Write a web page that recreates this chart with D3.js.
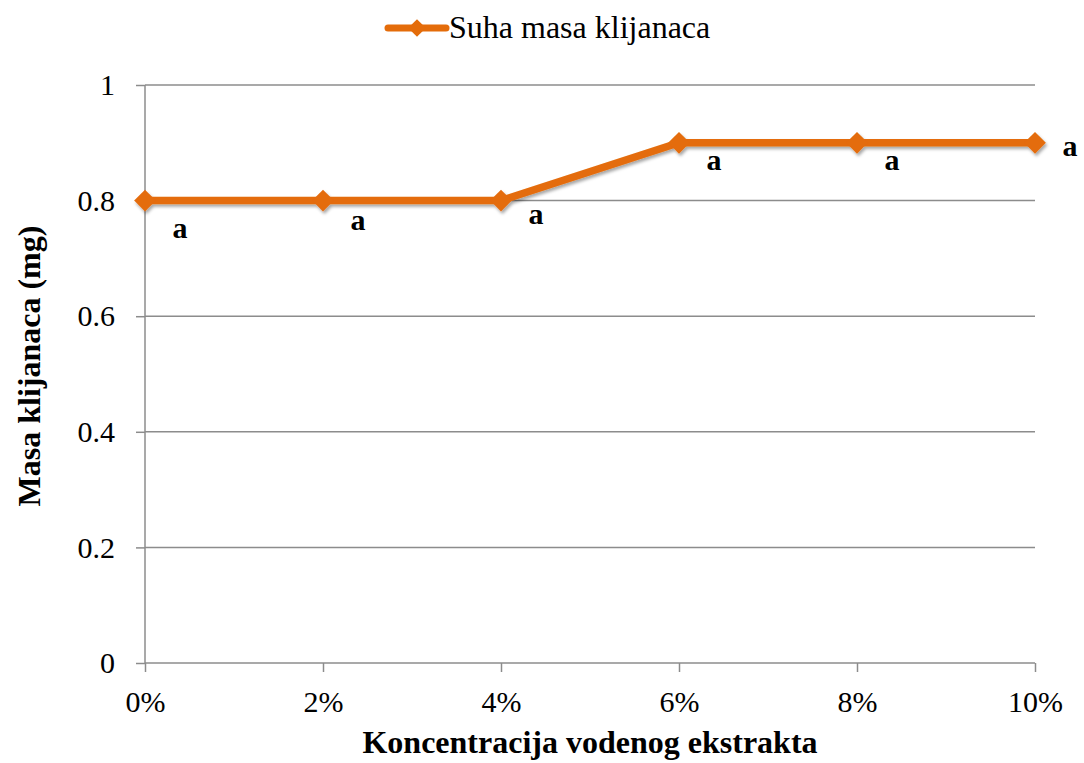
<!DOCTYPE html>
<html>
<head>
<meta charset="utf-8">
<script src="https://cdn.jsdelivr.net/npm/d3@7"></script>
<style>
  body { margin: 0; background: #fff; }
  svg { display: block; font-family: "Liberation Serif", "Times New Roman", serif; }
</style>
</head>
<body>
<svg id="chart" width="1084" height="763"></svg>
<script>
// data
const categories = ["0%", "2%", "4%", "6%", "8%", "10%"];
const values = [0.8, 0.8, 0.8, 0.9, 0.9, 0.9];
const pointLabels = ["a", "a", "a", "a", "a", "a"];
const yTicks = [0, 0.2, 0.4, 0.6, 0.8, 1];
const seriesName = "Suha masa klijanaca";

const orange = "#E46C0A";
const grid = "#8c8c8c";
const font = "Liberation Serif";

const svg = d3.select("#chart");
const margin = {left: 145, right: 49, top: 85, bottom: 100};
const W = 1084, H = 763;

const x = d3.scalePoint().domain(categories).range([margin.left, W - margin.right]);
const y = d3.scaleLinear().domain([0, 1]).range([H - margin.bottom, margin.top]);

// shadow for line + markers
const defs = svg.append("defs");
const f = defs.append("filter").attr("id", "shadow").attr("x", "-20%").attr("y", "-20%").attr("width", "140%").attr("height", "160%");
f.append("feDropShadow").attr("dx", 1.5).attr("dy", 2.5).attr("stdDeviation", 1.8).attr("flood-color", "#000").attr("flood-opacity", 0.35);

// gridlines
svg.append("g")
  .selectAll("line")
  .data(yTicks.filter(d => d > 0))
  .join("line")
  .attr("x1", margin.left).attr("x2", W - margin.right)
  .attr("y1", d => y(d)).attr("y2", d => y(d))
  .attr("stroke", grid).attr("stroke-width", 1.5);

// y axis
const yAxis = svg.append("g")
  .attr("transform", `translate(${margin.left},0)`)
  .call(d3.axisLeft(y).tickValues(yTicks).tickFormat(d3.format("")).tickSize(9).tickPadding(21));
yAxis.attr("font-family", font).attr("font-size", 30);
yAxis.select(".domain").attr("stroke", grid).attr("stroke-width", 1.5).attr("d", `M0,${y(0)}V${y(1)}`);
yAxis.selectAll(".tick line").attr("stroke", grid).attr("stroke-width", 1.5);
yAxis.selectAll("text").attr("fill", "#000");

// x axis
const xAxis = svg.append("g")
  .attr("transform", `translate(0,${y(0)})`)
  .call(d3.axisBottom(x).tickSize(9).tickPadding(19));
xAxis.attr("font-family", font).attr("font-size", 30);
xAxis.select(".domain").attr("stroke", grid).attr("stroke-width", 1.5).attr("d", `M${margin.left},0H${W - margin.right}`);
xAxis.selectAll(".tick line").attr("stroke", grid).attr("stroke-width", 1.5);
xAxis.selectAll("text").attr("fill", "#000");

// series
const diamond = d3.symbol().type(d3.symbolDiamond2).size(300);
const series = svg.append("g").attr("filter", "url(#shadow)");
series.append("path")
  .datum(values)
  .attr("fill", "none")
  .attr("stroke", orange)
  .attr("stroke-width", 7.5)
  .attr("d", d3.line().x((d, i) => x(categories[i])).y(d => y(d)));
series.selectAll(".pt")
  .data(values)
  .join("path")
  .attr("class", "pt")
  .attr("transform", (d, i) => `translate(${x(categories[i])},${y(d)})`)
  .attr("d", diamond)
  .attr("fill", orange);

// point labels (right/below each marker)
const labelDy = [28, 20, 14, 18, 18, 4];
svg.append("g")
  .selectAll("text")
  .data(values)
  .join("text")
  .attr("x", (d, i) => x(categories[i]) + 35)
  .attr("y", (d, i) => y(d) + labelDy[i] + 9)
  .attr("text-anchor", "middle")
  .attr("font-family", font)
  .attr("font-size", 30)
  .attr("font-weight", "bold")
  .text((d, i) => pointLabels[i]);

// axis titles
svg.append("text")
  .attr("x", 590).attr("y", 753)
  .attr("text-anchor", "middle")
  .attr("font-family", font)
  .attr("font-size", 32).attr("font-weight", "bold")
  .text("Koncentracija vodenog ekstrakta");
svg.append("text")
  .attr("transform", "translate(40,366) rotate(-90)")
  .attr("text-anchor", "middle")
  .attr("font-family", font)
  .attr("font-size", 32).attr("font-weight", "bold")
  .text("Masa klijanaca (mg)");

// legend
const lg = svg.append("g").attr("transform", "translate(388,28)");
lg.append("line").attr("x1", 0).attr("x2", 58).attr("stroke", orange).attr("stroke-width", 7).attr("stroke-linecap", "round");
lg.append("path").attr("transform", "translate(29,0)").attr("d", d3.symbol().type(d3.symbolDiamond2).size(200)).attr("fill", orange);
lg.append("text").attr("x", 61).attr("y", 10).attr("font-family", font).attr("font-size", 32).text(seriesName);
</script>
</body>
</html>
